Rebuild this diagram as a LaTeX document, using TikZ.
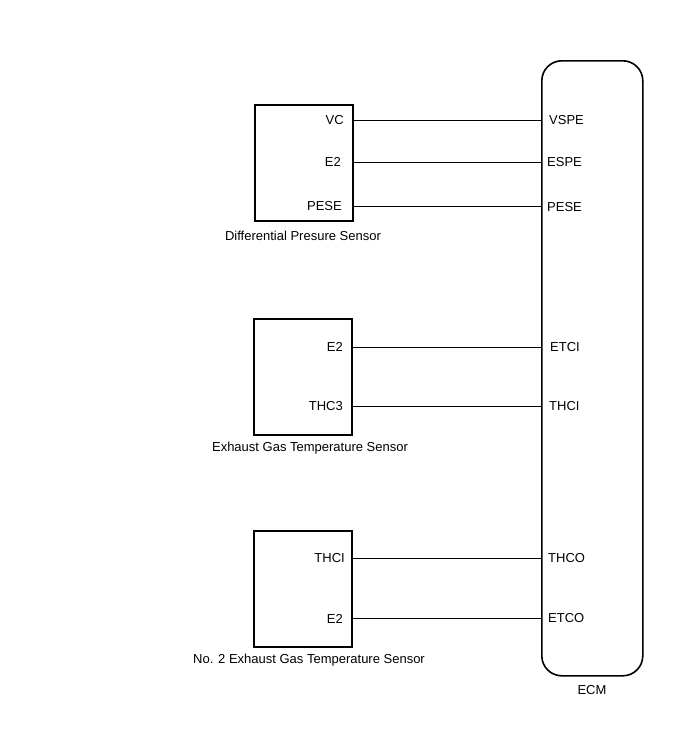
\documentclass[tikz,border=0pt]{standalone}
\usepackage{fontspec}
\setmainfont{Liberation Sans}
\begin{document}
\begin{tikzpicture}[x=1pt,y=-1pt,
  sensor/.style={draw,line width=1.6pt,inner sep=0pt,anchor=north west},
  pin/.style={font=\fontsize{13}{15}\selectfont,inner sep=0pt},
  captext/.style={font=\fontsize{13}{15}\selectfont,inner sep=0pt},
  wire/.style={line width=1pt}]
\useasboundingbox (0,0) rectangle (688,755);
% ECM
\node[draw,line width=1.6pt,rounded corners=20pt,minimum width=101pt,minimum height=615pt,inner sep=0pt,anchor=north west] (ecm) at (541,60) {};
\node[captext] (ecmlbl) at (592,690) {ECM};
% sensor boxes
\node[sensor,minimum width=98pt,minimum height=116pt] (s1) at (254,104) {};
\node[sensor,minimum width=98pt,minimum height=116pt] (s2) at (253,318) {};
\node[sensor,minimum width=98pt,minimum height=116pt] (s3) at (253,530) {};
\node[captext] (c1) at (303,236) {Differential Presure Sensor};
\node[captext] (c2) at (310,448) {Exhaust Gas Temperature Sensor};
\node[captext] (c3) at (309,660) {No. 2 Exhaust Gas Temperature Sensor};
% pins left
\node[pin,anchor=east] (l1) at (344,120) {VC};
\node[pin,anchor=east] (l2) at (341,162) {E2};
\node[pin,anchor=east] (l3) at (342,206) {PESE};
\node[pin,anchor=east] (l4) at (343,347) {E2};
\node[pin,anchor=east] (l5) at (343,406) {THC3};
\node[pin,anchor=east] (l6) at (345,558) {THCI};
\node[pin,anchor=east] (l7) at (343,619) {E2};
% pins right
\node[pin,anchor=west] (r1) at (549,120) {VSPE};
\node[pin,anchor=west] (r2) at (547,162) {ESPE};
\node[pin,anchor=west] (r3) at (547,207) {PESE};
\node[pin,anchor=west] (r4) at (550,347) {ETCI};
\node[pin,anchor=west] (r5) at (549,406) {THCI};
\node[pin,anchor=west] (r6) at (548,558) {THCO};
\node[pin,anchor=west] (r7) at (548,618) {ETCO};
% wires
\coordinate (a1) at (352,120); \coordinate (b1) at (541,120);
\coordinate (a2) at (352,162); \coordinate (b2) at (541,162);
\coordinate (a3) at (352,206); \coordinate (b3) at (541,206);
\coordinate (a4) at (351,347); \coordinate (b4) at (541,347);
\coordinate (a5) at (351,406); \coordinate (b5) at (541,406);
\coordinate (a6) at (351,558); \coordinate (b6) at (541,558);
\coordinate (a7) at (351,618); \coordinate (b7) at (541,618);
\foreach \i in {1,...,7} {\draw[wire] (a\i) -- (b\i);}
\end{tikzpicture}
\end{document}
